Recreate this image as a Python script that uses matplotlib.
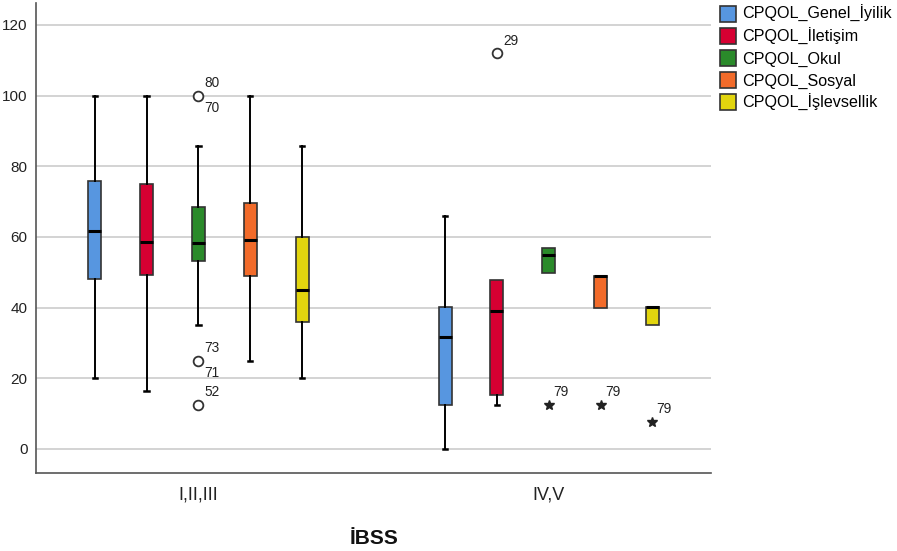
import numpy as np
import matplotlib
matplotlib.use("Agg")
import matplotlib.pyplot as plt
from matplotlib.patches import Patch

plt.rcParams['font.family'] = ['Liberation Sans', 'DejaVu Sans']

groups = ["I,II,III", "IV,V"]
series = ["CPQOL_Genel_İyilik", "CPQOL_İletişim", "CPQOL_Okul", "CPQOL_Sosyal", "CPQOL_İşlevsellik"]
colors = ["#5796E0", "#D60032", "#2A8A2A", "#F26B2A", "#E2D50E"]

# five-number summaries, [group][series]
whislo = [[20, 16.5, 35, 25, 20], [0, 12.5, 49.9, 40, 35.1]]
q1 = [[48.1, 49.2, 53.3, 49, 36], [12.5, 15.3, 49.9, 40, 35.1]]
med = [[61.7, 58.6, 58.4, 59, 44.9], [31.8, 39.1, 55, 49, 40.1]]
q3 = [[75.9, 75.1, 68.4, 69.6, 60], [40.2, 47.9, 56.9, 49, 40.1]]
whishi = [[100, 100, 85.6, 100, 85.6], [65.8, 47.9, 56.9, 49, 40.1]]

# outliers: (group, series, value, label above, label below)
circles = [(0, 2, 100, "80", "70"), (0, 2, 25, "73", "71"), (0, 2, 12.5, "52", None),
           (1, 1, 112, "29", None)]
stars = [(1, 2, 12.5, "79"), (1, 3, 12.5, "79"), (1, 4, 7.7, "79")]

fig = plt.figure(figsize=(8.97, 5.51), dpi=100)
ax = fig.add_axes([0.040, 0.1416, 0.753, 0.853])

step = 0.148
def xpos(g, s):
    return g + (s - 2) * step

for g in range(len(groups)):
    for s in range(len(series)):
        st = dict(med=med[g][s], q1=q1[g][s], q3=q3[g][s], whislo=whislo[g][s],
                  whishi=whishi[g][s], fliers=[])
        parts = ax.bxp([st], positions=[xpos(g, s)], widths=0.037, patch_artist=True,
                       showfliers=False,
                       boxprops=dict(facecolor=colors[s], edgecolor="#333333", linewidth=1.2),
                       medianprops=dict(color="black", linewidth=2.2),
                       whiskerprops=dict(color="black", linewidth=1.4),
                       capprops=dict(color="black", linewidth=1.8), capwidths=0.012)
        # no whisker/cap where it collapses onto the box
        if whislo[g][s] == q1[g][s]:
            parts['caps'][0].set_visible(False)
            parts['whiskers'][0].set_visible(False)
        if whishi[g][s] == q3[g][s]:
            parts['caps'][1].set_visible(False)
            parts['whiskers'][1].set_visible(False)

for g, s, v, up, down in circles:
    x = xpos(g, s)
    ax.plot(x, v, 'o', mfc='white', mec='#333333', ms=7, mew=1.3, zorder=5)
    if up:
        ax.annotate(up, (x, v), xytext=(4.5, 9), textcoords='offset points',
                    fontsize=9.8, ha='left', va='center', color='#222222')
    if down:
        ax.annotate(down, (x, v), xytext=(4.5, -9), textcoords='offset points',
                    fontsize=9.8, ha='left', va='center', color='#222222')

for g, s, v, lab in stars:
    x = xpos(g, s)
    ax.plot(x, v, '*', color='#222222', ms=7, zorder=5)
    ax.annotate(lab, (x, v), xytext=(3, 9), textcoords='offset points',
                fontsize=9.8, ha='left', va='center', color='#222222')

ax.set_xlim(-0.464, 1.464)
ax.set_ylim(-6.8, 126.2)
ax.set_yticks(np.arange(0, 121, 20))
ax.set_xticks([0, 1])
ax.set_xticklabels(groups, fontsize=13)
ax.tick_params(axis='both', length=0, colors='#222222')
ax.tick_params(axis='y', labelsize=11, pad=6)
ax.tick_params(axis='x', pad=10)
ax.yaxis.grid(True, color='#cccccc', linewidth=1.2)
ax.set_axisbelow(True)
for sp in ['top', 'right']:
    ax.spines[sp].set_visible(False)
for sp in ['left', 'bottom']:
    ax.spines[sp].set_color('#555555')
    ax.spines[sp].set_linewidth(1.2)

ax.set_xlabel("İBSS", fontsize=15, labelpad=18, color='#111111', fontweight='bold')

handles = [Patch(facecolor=c, edgecolor='#333333', linewidth=1.2) for c in colors]
fig.legend(handles, series, loc='upper left', bbox_to_anchor=(0.792, 1.008),
           frameon=False, fontsize=11.6, handlelength=1.0, handleheight=1.15,
           handletextpad=0.35, labelspacing=0.33, borderaxespad=0.2)

fig.savefig("out.png", dpi=100)
